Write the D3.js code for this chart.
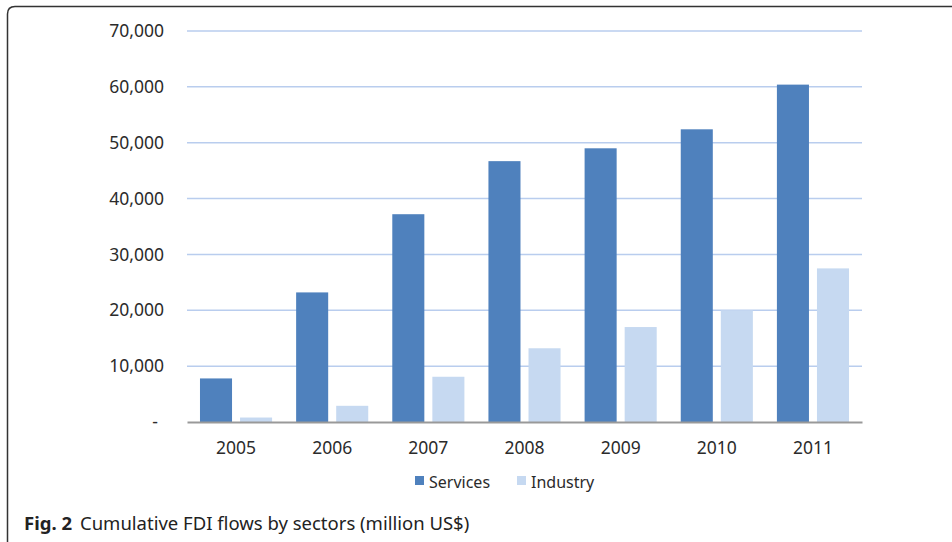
<!DOCTYPE html>
<html>
<head>
<meta charset="utf-8">
<script src="https://cdn.jsdelivr.net/npm/d3@7"></script>
<style>
  body { margin: 0; background: #fff; }
  text { font-family: "Noto Sans", sans-serif; }
</style>
</head>
<body>
<div id="root"></div>
<script>
const years = ['2005', '2006', '2007', '2008', '2009', '2010', '2011'];
const services = [7800, 23200, 37200, 46700, 49000, 52400, 60400];
const industry = [800, 2900, 8100, 13200, 17000, 20000, 27500];
const yTicks = [0, 10000, 20000, 30000, 40000, 50000, 60000, 70000];
const seriesNames = ['Services', 'Industry'];
const colors = ['#4f81bd', '#c6d9f1'];

const w = 952;
const h = 542;
const plotLeft = 187, plotRight = 862, plotTop = 31, plotBottom = 422;

const svg = d3.select('#root')
  .append('svg')
  .attr('width', w)
  .attr('height', h);

// cornice
svg.append('path')
  .attr('d', `M7.5,${h} L7.5,14 Q7.5,6.5 15,6.5 L${w},6.5`)
  .attr('fill', 'none')
  .attr('stroke', '#333')
  .attr('stroke-width', 1.5);

const x0 = d3.scaleBand()
  .domain(years)
  .range([plotLeft, plotRight])
  .paddingInner(0.25)
  .paddingOuter(0.135);

const x1 = d3.scaleBand()
  .domain(seriesNames)
  .range([0, x0.bandwidth()])
  .paddingInner(0.2);

const yScale = d3.scaleLinear()
  .domain([0, 70000])
  .range([plotBottom, plotTop]);

// griglia
svg.append('g')
  .selectAll('line')
  .data(yTicks.filter(d => d > 0))
  .enter()
  .append('line')
  .attr('x1', plotLeft)
  .attr('x2', plotRight)
  .attr('y1', d => yScale(d))
  .attr('y2', d => yScale(d))
  .attr('stroke', '#b9cdee')
  .attr('stroke-width', 1.5);

// asse y
const yAxis = d3.axisLeft(yScale)
  .tickValues(yTicks)
  .tickSize(0)
  .tickPadding(0)
  .tickFormat(d => d === 0 ? '-' : d3.format(',')(d));
svg.append('g')
  .attr('transform', `translate(164, 0)`)
  .call(yAxis)
  .call(g => g.select('.domain').remove())
  .selectAll('text')
  .attr('font-size', 17.5)
  .attr('fill', '#2b2b2b')
  .attr('font-family', '"Noto Sans", sans-serif')
  .attr('dx', d => d === 0 ? -6 : 0);

// barre
const rows = years.map((y, i) => ({ year: y, values: [services[i], industry[i]] }));
svg.append('g')
  .selectAll('g')
  .data(rows)
  .enter()
  .append('g')
  .attr('transform', d => `translate(${x0(d.year)}, 0)`)
  .selectAll('rect')
  .data(d => d.values.map((v, j) => ({ key: seriesNames[j], value: v, color: colors[j] })))
  .enter()
  .append('rect')
  .attr('x', d => x1(d.key))
  .attr('width', x1.bandwidth())
  .attr('y', d => yScale(d.value))
  .attr('height', d => plotBottom - yScale(d.value))
  .attr('fill', d => d.color);

// asse x
const xAxis = d3.axisBottom(x0).tickSize(0).tickPadding(20);
svg.append('g')
  .attr('transform', `translate(0, ${plotBottom})`)
  .call(xAxis)
  .call(g => g.select('.domain').attr('stroke', '#999').attr('stroke-width', 2))
  .selectAll('text')
  .attr('font-size', 17.5)
  .attr('fill', '#2b2b2b')
  .attr('font-family', '"Noto Sans", sans-serif');

// legenda
const legendX = [415, 517];
const legend = svg.append('g');
seriesNames.forEach((name, i) => {
  legend.append('rect')
    .attr('x', legendX[i])
    .attr('y', 476)
    .attr('width', 9)
    .attr('height', 9)
    .attr('fill', colors[i]);
  legend.append('text')
    .attr('x', legendX[i] + 14)
    .attr('y', 488)
    .attr('font-size', 16)
    .attr('fill', '#2b2b2b')
    .text(name);
});

// didascalia
const caption = svg.append('text')
  .attr('x', 24)
  .attr('y', 530)
  .attr('font-size', 18.5)
  .attr('fill', '#222');
caption.append('tspan').attr('font-weight', 'bold').text('Fig. 2');
caption.append('tspan').attr('dx', 8).text('Cumulative FDI flows by sectors (million US$)');
</script>
</body>
</html>
